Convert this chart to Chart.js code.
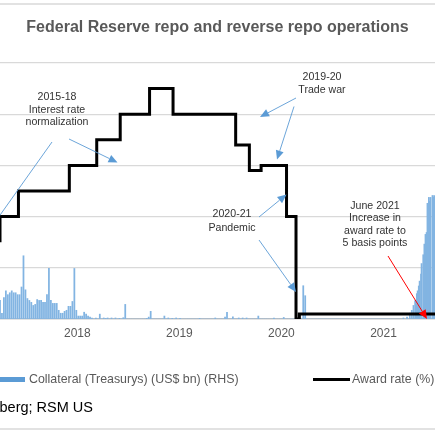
<!DOCTYPE html>
<html>
<head>
<meta charset="utf-8">
<script src="https://cdn.jsdelivr.net/npm/chart.js@4.4.1/dist/chart.umd.min.js"></script>
<style>
  html, body { margin: 0; padding: 0; background: #ffffff; }
  #wrap { width: 435px; height: 435px; position: relative; overflow: hidden; }
</style>
</head>
<body>
<div id="wrap"><canvas id="c" width="435" height="435"></canvas></div>
<script>
// ---------------- DATA ----------------
const chartTitle = 'Federal Reserve repo and reverse repo operations';
const barLabel = 'Collateral (Treasurys) (US$ bn) (RHS)';
const lineLabel = 'Award rate (%)';
const sourceText = 'Source: Bloomberg; RSM US';

const axisStart = '2017-04-10';
const axisEnd = '2021-07-15';
const tickYears = [2018, 2019, 2020, 2021];
const rateTicks = [0, 0.5, 1.0, 1.5, 2.0, 2.5];
const collateralMax = 2000;

// Award rate (%) - step changes
const rateDates = ['2017-04-10','2017-06-15','2017-12-14','2018-03-22','2018-06-14','2018-09-27','2018-12-20',
                   '2019-08-01','2019-09-19','2019-10-31','2020-01-30','2020-03-04','2020-03-16','2021-06-17','2021-07-15'];
const rateValues = [0.75, 1.00, 1.25, 1.50, 1.75, 2.00, 2.25, 2.00, 1.70, 1.45, 1.50, 1.00, 0.00, 0.05, 0.05];

// Collateral (US$ bn), weekly readings from weeklyStart
const weeklyStart = '2017-04-10';
const collateralWeekly = [
  145,45,167,220,190,205,220,205,205,190,
  190,250,494,228,160,145,130,106,114,152,
  145,145,130,130,190,395,145,122,122,122,
  68,45,45,60,68,99,99,137,395,68,
  23,23,23,53,38,23,15,8,0,8,
  0,38,0,8,5,8,0,8,0,8,
  0,5,0,10,114,0,0,0,0,0,
  0,0,0,0,0,5,15,60,0,0,
  0,0,0,0,23,0,8,0,5,0,
  8,0,5,0,0,0,0,0,0,0,
  0,0,5,0,0,0,0,0,0,0,
  8,0,0,0,0,15,53,0,0,17,
  0,0,8,0,8,0,8,0,0,0,
  0,0,23,0,0,0,0,0,0,0,
  8,0,0,0,0,12,0,0,0,0,
  0,0,0,0,0,260,182,0,0,0,
  0,0,0,0,0,0,0,0,0,0,
  0,0,0,0,0,0,0,0,0,0,
  0,0,0,0,0,0,0,0,0,0,
  0,0,0,0,0,0,0,0,0,0,
  0,0,0,0,0,0
];

// Collateral (US$ bn), 2021 daily readings
const collateral2021Dates = ['2021-03-24','2021-04-06','2021-04-16','2021-04-23','2021-04-29','2021-05-05','2021-05-11',
  '2021-05-14','2021-05-18','2021-05-21','2021-05-26','2021-05-28','2021-06-03','2021-06-07','2021-06-11','2021-06-15',
  '2021-06-18','2021-06-23','2021-06-25','2021-06-29','2021-07-06','2021-07-08','2021-07-12'];
const collateral2021Values = [8,15,46,68,106,144,198,220,258,296,350,433,502,585,661,676,904,950,920,950,965,950,965];

// ---------------- HELPERS ----------------
function msToYear(ms) {
  const d = new Date(ms);
  const y = d.getUTCFullYear();
  const a = Date.UTC(y, 0, 1), b = Date.UTC(y + 1, 0, 1);
  return y + (ms - a) / (b - a);
}
function toYear(s) {
  const [y, m, d] = s.split('-').map(Number);
  return msToYear(Date.UTC(y, m - 1, d));
}

const ws = weeklyStart.split('-').map(Number);
const weekMs0 = Date.UTC(ws[0], ws[1] - 1, ws[2]);
const barPoints = collateralWeekly.map((v, i) => ({ x: msToYear(weekMs0 + i * 7 * 86400000), y: v }))
  .concat(collateral2021Dates.map((d, i) => ({ x: toYear(d), y: collateral2021Values[i] })));
const ratePoints = rateDates.map((d, i) => ({ x: toYear(d), y: rateValues[i] }));

const FONT = '"Liberation Sans", Arial, sans-serif';
const BLUE = '#5b9bd5';

function arrow(ctx, x1, y1, x2, y2, color, lw) {
  const ang = Math.atan2(y2 - y1, x2 - x1);
  const hl = 9, hw = 4;
  const bx = x2 - hl * Math.cos(ang), by = y2 - hl * Math.sin(ang);
  ctx.strokeStyle = color; ctx.fillStyle = color; ctx.lineWidth = lw;
  ctx.beginPath(); ctx.moveTo(x1, y1); ctx.lineTo(bx, by); ctx.stroke();
  ctx.beginPath();
  ctx.moveTo(x2, y2);
  ctx.lineTo(bx + hw * Math.sin(ang), by - hw * Math.cos(ang));
  ctx.lineTo(bx - hw * Math.sin(ang), by + hw * Math.cos(ang));
  ctx.closePath(); ctx.fill();
}
function lines(ctx, arr, x, y0, lh) {
  arr.forEach((t, i) => ctx.fillText(t, x, y0 + i * lh));
}

const decor = {
  id: 'decor',
  afterDraw(chart) {
    const ctx = chart.ctx;
    ctx.save();
    // frame lines
    ctx.strokeStyle = '#d9d9d9'; ctx.lineWidth = 1.3;
    ctx.beginPath(); ctx.moveTo(0, 4); ctx.lineTo(435, 4); ctx.moveTo(0, 429); ctx.lineTo(435, 429); ctx.stroke();

    // annotations
    ctx.font = '10.6px ' + FONT; ctx.fillStyle = '#333333';
    ctx.textAlign = 'center'; ctx.textBaseline = 'middle';
    lines(ctx, ['2015-18', 'Interest rate', 'normalization'], 57, 97.5, 12.4);
    lines(ctx, ['2019-20', 'Trade war'], 322, 77.5, 12.6);
    lines(ctx, ['2020-21', 'Pandemic'], 232, 214.5, 13.2);
    lines(ctx, ['June 2021', 'Increase in', 'award rate to', '5 basis points'], 375, 206, 12.3);

    arrow(ctx, 52, 142, -12, 232, BLUE, 0.9);
    arrow(ctx, 69, 139, 117.5, 162.5, BLUE, 0.9);
    arrow(ctx, 296, 98, 260, 117, BLUE, 0.9);
    arrow(ctx, 294, 106.5, 277, 159.5, BLUE, 0.9);
    arrow(ctx, 259, 217, 286.5, 194.5, BLUE, 0.9);
    arrow(ctx, 259, 240, 296, 292, BLUE, 0.9);
    arrow(ctx, 388, 256, 427, 319, '#ff0000', 1);

    // legend
    ctx.fillStyle = BLUE; ctx.fillRect(-2, 377, 27, 5);
    ctx.strokeStyle = '#000000'; ctx.lineWidth = 3;
    ctx.beginPath(); ctx.moveTo(313, 379.5); ctx.lineTo(350, 379.5); ctx.stroke();
    ctx.font = '12.4px ' + FONT; ctx.fillStyle = '#595959';
    ctx.textAlign = 'left'; ctx.textBaseline = 'middle';
    ctx.fillText(barLabel, 29, 379.5);
    ctx.fillText(lineLabel, 352, 379.5);

    // source
    ctx.font = '14.5px ' + FONT; ctx.fillStyle = '#000000';
    ctx.textAlign = 'right';
    ctx.fillText(sourceText, 93, 408);
    ctx.restore();
  }
};

new Chart(document.getElementById('c'), {
  type: 'bar',
  data: {
    datasets: [
      {
        type: 'line', label: lineLabel, data: ratePoints, yAxisID: 'y', order: 0,
        borderColor: '#000000', borderWidth: 3, pointRadius: 0, stepped: 'after', fill: false,
        borderJoinStyle: 'miter'
      },
      {
        type: 'bar', label: barLabel, data: barPoints, yAxisID: 'y2', order: 1,
        backgroundColor: '#82b4e2', borderWidth: 0, barThickness: 1.1
      }
    ]
  },
  plugins: [decor],
  options: {
    responsive: false, animation: false, devicePixelRatio: 1,
    layout: { padding: { left: 0, right: 0, top: 0, bottom: 87.6 } },
    plugins: {
      legend: { display: false },
      tooltip: { enabled: false },
      title: {
        display: true, text: chartTitle, color: '#595959',
        font: { family: FONT, size: 16, weight: 'bold' },
        padding: { top: 18, bottom: 25.8 }
      }
    },
    scales: {
      x: {
        type: 'linear', offset: false,
        min: toYear(axisStart), max: toYear(axisEnd),
        afterBuildTicks: (axis) => { axis.ticks = tickYears.map(v => ({ value: v })); },
        grid: { display: false, drawTicks: false, offset: false },
        border: { display: true, color: '#bfbfbf', width: 1.3 },
        ticks: { color: '#595959', font: { family: FONT, size: 12 }, padding: 7, labelOffset: 3,
                 maxRotation: 0, autoSkip: false, callback: (v) => String(v) }
      },
      y: {
        position: 'left', min: 0, max: 2.5,
        afterBuildTicks: (axis) => { axis.ticks = rateTicks.map(v => ({ value: v })); },
        grid: { color: (c) => (c.tick && c.tick.value === 0 ? '#bfbfbf' : '#d9d9d9'), lineWidth: 1.3, drawTicks: false },
        border: { display: false },
        ticks: { display: false }
      },
      y2: {
        position: 'right', min: 0, max: collateralMax, display: false
      }
    }
  }
});
</script>
</body>
</html>
